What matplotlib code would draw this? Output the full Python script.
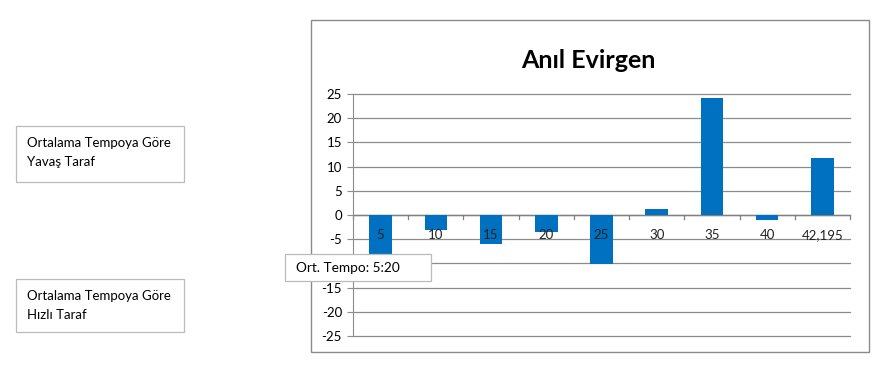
import matplotlib
matplotlib.use("Agg")
import matplotlib.pyplot as plt
from matplotlib.patches import Rectangle

plt.rcParams['font.family'] = ['Lato', 'DejaVu Sans']

categories = ['5', '10', '15', '20', '25', '30', '35', '40', '42,195']
values = [-8.5, -3.1, -6.0, -3.6, -10.1, 1.2, 24.1, -1.1, 11.7]
title = 'Anıl Evirgen'
yticks = [-25, -20, -15, -10, -5, 0, 5, 10, 15, 20, 25]

W, H = 896, 370
BLUE = '#0070C0'
GRID = '#8C8C8C'


def fig_rect(fig, x0, y0, x1, y1, **kw):
    r = Rectangle((x0 / W, 1 - y1 / H), (x1 - x0) / W, (y1 - y0) / H,
                  transform=fig.transFigure, **kw)
    fig.add_artist(r)
    return r


fig = plt.figure(figsize=(W / 100, H / 100), dpi=100)
fig.patch.set_facecolor('white')

# chart outer border
fig_rect(fig, 311, 20, 869, 352, fill=False, edgecolor='#8A8A8A', linewidth=1.0)

ax = fig.add_axes([353 / W, 1 - 336 / H, (850 - 353) / W, (336 - 94) / H])
x = list(range(len(categories)))
ax.bar(x, values, width=0.41, color=BLUE, zorder=3)
ax.set_xlim(-0.5, len(categories) - 0.5)
ax.set_ylim(-25, 25)
ax.set_yticks(yticks)
ax.set_yticklabels([f'{v}' if v >= 0 else f'-{abs(v)}' for v in yticks], fontsize=9.5)
ax.yaxis.grid(True, color=GRID, linewidth=0.9, zorder=0)
for gl in ax.get_ygridlines():
    gl.set_clip_on(False)
ax.tick_params(axis='y', length=4, color=GRID, pad=4)
for s in ['top', 'right', 'bottom']:
    ax.spines[s].set_visible(False)
ax.spines['left'].set_color(GRID)
ax.set_xticks([])
ax.axhline(0, color='#808080', linewidth=1.0, zorder=2)
for b in [i - 0.5 for i in range(len(categories) + 1)]:
    ax.plot([b, b], [0, -0.8], color='#808080', linewidth=0.9, zorder=2, clip_on=False)
# category labels sit just under the zero line, over the bars
for i, c in enumerate(categories):
    ax.text(i, -4.1, c, ha='center', va='center', fontsize=9.5, color='#222222', zorder=4)

fig.text(588 / W, 1 - 60 / H, title, ha='center', va='center',
         fontsize=18, fontweight='bold', color='black')

# side boxes
fig_rect(fig, 16, 126, 184, 182, facecolor='white', edgecolor='#BBBBBB', linewidth=0.9)
fig.text(27 / W, 1 - 143 / H, 'Ortalama Tempoya Göre', ha='left', va='center', fontsize=9.5)
fig.text(27 / W, 1 - 162 / H, 'Yavaş Taraf', ha='left', va='center', fontsize=9.5)

fig_rect(fig, 16, 279, 184, 332, facecolor='white', edgecolor='#BBBBBB', linewidth=0.9)
fig.text(27 / W, 1 - 296 / H, 'Ortalama Tempoya Göre', ha='left', va='center', fontsize=9.5)
fig.text(27 / W, 1 - 315 / H, 'Hızlı Taraf', ha='left', va='center', fontsize=9.5)

# tooltip
fig_rect(fig, 285, 254, 431, 281, facecolor='white', edgecolor='#BBBBBB', linewidth=0.9, zorder=5)
fig.text(296 / W, 1 - 268 / H, 'Ort. Tempo: 5:20', ha='left', va='center', fontsize=9.8, zorder=6)

fig.savefig('out.png', dpi=100)
